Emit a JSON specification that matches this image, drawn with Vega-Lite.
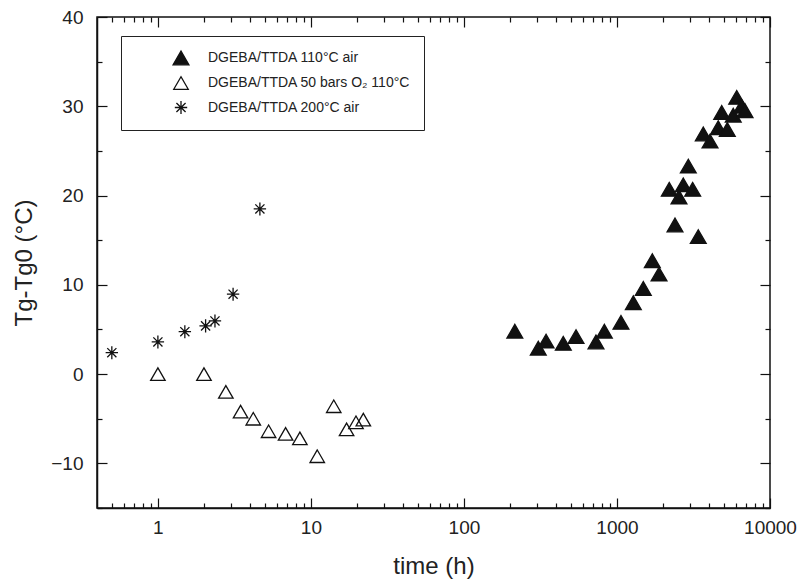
{
  "$schema": "https://vega.github.io/schema/vega-lite/v6.json",
  "width": 673,
  "height": 491,
  "autosize": {"type": "none"},
  "padding": {"left": 97, "top": 17, "right": 30, "bottom": 78},
  "background": "white",
  "config": {
    "font": "Liberation Sans",
    "view": {"stroke": "#111", "strokeWidth": 1.5},
    "axis": {"grid": false, "domainColor": "#111", "domainWidth": 1.5, "tickColor": "#111", "tickWidth": 1.2, "labelColor": "#222", "titleColor": "#222", "labelFont": "Liberation Sans", "titleFont": "Liberation Sans", "titleFontWeight": "normal"},
    "legend": {
      "orient": "none", "legendX": 24, "legendY": 19,
      "strokeColor": "#222", "padding": 13, "fillColor": "white",
      "labelFontSize": 14, "labelColor": "#222", "labelFont": "Liberation Sans", "labelLimit": 400,
      "symbolOffset": 38, "labelOffset": 18, "rowPadding": 6,
      "symbolStrokeColor": "#111", "symbolStrokeWidth": 1.3
    }
  },
  "data": {
    "values": [
      {"series": "DGEBA/TTDA 110°C air", "t": 215, "dT": 4.8},
      {"series": "DGEBA/TTDA 110°C air", "t": 306, "dT": 2.9},
      {"series": "DGEBA/TTDA 110°C air", "t": 344, "dT": 3.7},
      {"series": "DGEBA/TTDA 110°C air", "t": 446, "dT": 3.45},
      {"series": "DGEBA/TTDA 110°C air", "t": 540, "dT": 4.2},
      {"series": "DGEBA/TTDA 110°C air", "t": 729, "dT": 3.6},
      {"series": "DGEBA/TTDA 110°C air", "t": 827, "dT": 4.8},
      {"series": "DGEBA/TTDA 110°C air", "t": 1062, "dT": 5.8},
      {"series": "DGEBA/TTDA 110°C air", "t": 1279, "dT": 8.0},
      {"series": "DGEBA/TTDA 110°C air", "t": 1486, "dT": 9.6},
      {"series": "DGEBA/TTDA 110°C air", "t": 1702, "dT": 12.7},
      {"series": "DGEBA/TTDA 110°C air", "t": 1883, "dT": 11.2},
      {"series": "DGEBA/TTDA 110°C air", "t": 2198, "dT": 20.7},
      {"series": "DGEBA/TTDA 110°C air", "t": 2394, "dT": 16.7},
      {"series": "DGEBA/TTDA 110°C air", "t": 2542, "dT": 19.85},
      {"series": "DGEBA/TTDA 110°C air", "t": 2711, "dT": 21.2},
      {"series": "DGEBA/TTDA 110°C air", "t": 2925, "dT": 23.3},
      {"series": "DGEBA/TTDA 110°C air", "t": 3125, "dT": 20.7},
      {"series": "DGEBA/TTDA 110°C air", "t": 3398, "dT": 15.4},
      {"series": "DGEBA/TTDA 110°C air", "t": 3664, "dT": 26.9},
      {"series": "DGEBA/TTDA 110°C air", "t": 4055, "dT": 26.1},
      {"series": "DGEBA/TTDA 110°C air", "t": 4590, "dT": 27.6},
      {"series": "DGEBA/TTDA 110°C air", "t": 4835, "dT": 29.3},
      {"series": "DGEBA/TTDA 110°C air", "t": 5260, "dT": 27.4},
      {"series": "DGEBA/TTDA 110°C air", "t": 5750, "dT": 29.0},
      {"series": "DGEBA/TTDA 110°C air", "t": 6060, "dT": 31.0},
      {"series": "DGEBA/TTDA 110°C air", "t": 6530, "dT": 30.0},
      {"series": "DGEBA/TTDA 110°C air", "t": 6870, "dT": 29.5},
      {"series": "DGEBA/TTDA 50 bars O₂ 110°C", "t": 1, "dT": 0},
      {"series": "DGEBA/TTDA 50 bars O₂ 110°C", "t": 2, "dT": 0},
      {"series": "DGEBA/TTDA 50 bars O₂ 110°C", "t": 2.78, "dT": -2.0},
      {"series": "DGEBA/TTDA 50 bars O₂ 110°C", "t": 3.47, "dT": -4.2},
      {"series": "DGEBA/TTDA 50 bars O₂ 110°C", "t": 4.2, "dT": -5.0},
      {"series": "DGEBA/TTDA 50 bars O₂ 110°C", "t": 5.29, "dT": -6.4},
      {"series": "DGEBA/TTDA 50 bars O₂ 110°C", "t": 6.83, "dT": -6.7},
      {"series": "DGEBA/TTDA 50 bars O₂ 110°C", "t": 8.47, "dT": -7.2},
      {"series": "DGEBA/TTDA 50 bars O₂ 110°C", "t": 11.0, "dT": -9.2},
      {"series": "DGEBA/TTDA 50 bars O₂ 110°C", "t": 14.1, "dT": -3.6},
      {"series": "DGEBA/TTDA 50 bars O₂ 110°C", "t": 17.1, "dT": -6.2},
      {"series": "DGEBA/TTDA 50 bars O₂ 110°C", "t": 19.7, "dT": -5.4},
      {"series": "DGEBA/TTDA 50 bars O₂ 110°C", "t": 22, "dT": -5.1},
      {"series": "DGEBA/TTDA 200°C air", "t": 0.5, "dT": 2.4},
      {"series": "DGEBA/TTDA 200°C air", "t": 1, "dT": 3.6},
      {"series": "DGEBA/TTDA 200°C air", "t": 1.5, "dT": 4.75},
      {"series": "DGEBA/TTDA 200°C air", "t": 2.05, "dT": 5.4},
      {"series": "DGEBA/TTDA 200°C air", "t": 2.36, "dT": 5.95},
      {"series": "DGEBA/TTDA 200°C air", "t": 3.1, "dT": 8.95},
      {"series": "DGEBA/TTDA 200°C air", "t": 4.64, "dT": 18.5}
    ]
  },
  "resolve": {"axis": {"x": "independent", "y": "independent"}},
  "layer": [
    {
      "mark": {"type": "point", "filled": true, "strokeWidth": 1.3, "opacity": 1},
      "encoding": {
        "x": {
          "field": "t", "type": "quantitative",
          "scale": {"type": "log", "domain": [0.4, 10000], "nice": false},
          "axis": {
            "orient": "bottom", "title": "time (h)", "titleFontSize": 24, "titlePadding": 12,
            "labelFontSize": 19, "labelOverlap": false, "labelFlush": false,
            "values": [0.5,0.6,0.7,0.8,0.9,1,2,3,4,5,6,7,8,9,10,20,30,40,50,60,70,80,90,100,200,300,400,500,600,700,800,900,1000,2000,3000,4000,5000,6000,7000,8000,9000,10000],
            "labelExpr": "indexof([1,10,100,1000,10000], datum.value) >= 0 ? format(datum.value, 'd') : ''",
            "tickSize": {"condition": {"test": "indexof([1,10,100,1000,10000], datum.value) >= 0", "value": -10}, "value": -5},
            "labelPadding": 20
          }
        },
        "y": {
          "field": "dT", "type": "quantitative",
          "scale": {"domain": [-15, 40], "nice": false, "zero": false},
          "axis": {
            "orient": "left", "title": "Tg-Tg0 (°C)", "titleFontSize": 24, "titlePadding": 14,
            "labelFontSize": 19,
            "values": [-15,-10,-5,0,5,10,15,20,25,30,35,40],
            "labelExpr": "datum.value % 10 == 0 ? datum.label : ''",
            "tickSize": {"condition": {"test": "datum.value % 10 == 0", "value": -10}, "value": -5},
            "labelPadding": 24
          }
        },
        "shape": {
          "field": "series", "type": "nominal", "title": null,
          "scale": {"domain": ["DGEBA/TTDA 110°C air", "DGEBA/TTDA 50 bars O₂ 110°C", "DGEBA/TTDA 200°C air"], "range": ["triangle-up", "triangle-up", "M0,-1L0,1M-0.95,0L0.95,0M-0.7,-0.7L0.7,0.7M-0.7,0.7L0.7,-0.7"]}
        },
        "fill": {
          "field": "series", "type": "nominal", "title": null,
          "scale": {"domain": ["DGEBA/TTDA 110°C air", "DGEBA/TTDA 50 bars O₂ 110°C", "DGEBA/TTDA 200°C air"], "range": ["#111", "transparent", "transparent"]}
        },
        "stroke": {
          "field": "series", "type": "nominal", "title": null,
          "scale": {"domain": ["DGEBA/TTDA 110°C air", "DGEBA/TTDA 50 bars O₂ 110°C", "DGEBA/TTDA 200°C air"], "range": ["#111", "#111", "#111"]}
        },
        "size": {
          "field": "series", "type": "nominal", "title": null,
          "scale": {"domain": ["DGEBA/TTDA 110°C air", "DGEBA/TTDA 50 bars O₂ 110°C", "DGEBA/TTDA 200°C air"], "range": [250, 170, 200]}
        }
      }
    },
    {
      "mark": {"type": "point", "opacity": 0},
      "encoding": {
        "x": {
          "field": "t", "type": "quantitative",
          "scale": {"type": "log", "domain": [0.4, 10000], "nice": false},
          "axis": {
            "orient": "top", "title": null, "labels": false, "domain": false,
            "values": [0.5,0.6,0.7,0.8,0.9,1,2,3,4,5,6,7,8,9,10,20,30,40,50,60,70,80,90,100,200,300,400,500,600,700,800,900,1000,2000,3000,4000,5000,6000,7000,8000,9000,10000],
            "tickSize": {"condition": {"test": "indexof([1,10,100,1000,10000], datum.value) >= 0", "value": -10}, "value": -5}
          }
        },
        "y": {
          "field": "dT", "type": "quantitative",
          "scale": {"domain": [-15, 40], "nice": false, "zero": false},
          "axis": {
            "orient": "right", "title": null, "labels": false, "domain": false,
            "values": [-15,-10,-5,0,5,10,15,20,25,30,35,40],
            "tickSize": {"condition": {"test": "datum.value % 10 == 0", "value": -10}, "value": -5}
          }
        }
      }
    }
  ]
}
